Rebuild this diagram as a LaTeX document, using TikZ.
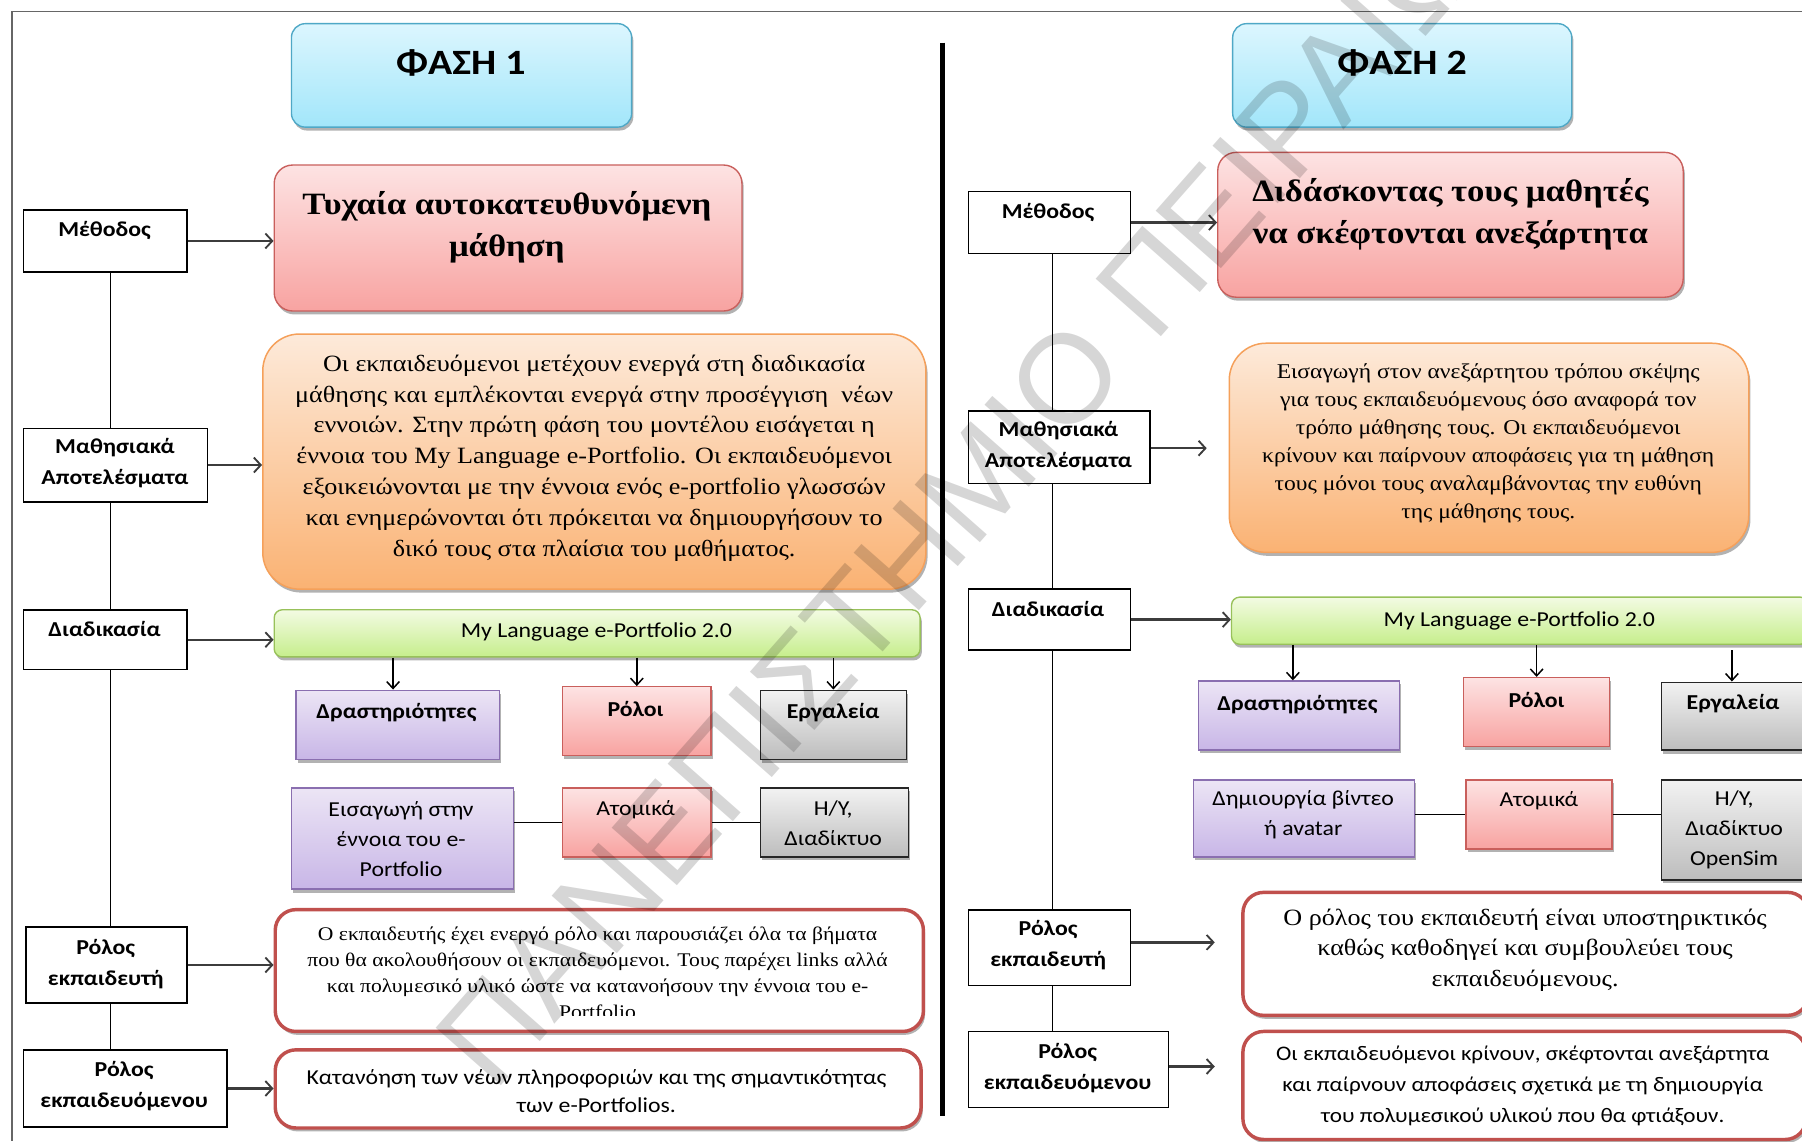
\documentclass[tikz,border=0pt]{standalone}
\usepackage{fontspec}
\setmainfont{Liberation Serif}[FakeStretch=1.12]
\newfontfamily\CarFont{Carlito}[FakeStretch=1.12]
\newfontfamily\WmFont{Liberation Sans}
\usetikzlibrary{arrows.meta,shadows}
\definecolor{blueTop}{HTML}{DCF6FE}\definecolor{blueBot}{HTML}{A2E6FA}\definecolor{blueBd}{HTML}{4FA8C6}
\definecolor{pinkTop}{HTML}{FDE3E3}\definecolor{pinkBot}{HTML}{F8A3A1}\definecolor{pinkBd}{HTML}{C95F5C}
\definecolor{orTop}{HTML}{FDEADA}\definecolor{orBot}{HTML}{FAB273}\definecolor{orBd}{HTML}{F5A05A}
\definecolor{grTop}{HTML}{F3FBE3}\definecolor{grBot}{HTML}{C6EE8C}\definecolor{grBd}{HTML}{98C15A}
\definecolor{puTop}{HTML}{ECE5F5}\definecolor{puBot}{HTML}{C8B6E7}\definecolor{puBd}{HTML}{8A6FB0}
\definecolor{gyTop}{HTML}{F2F2F2}\definecolor{gyBot}{HTML}{BDBDBD}\definecolor{gyBd}{HTML}{262626}
\definecolor{redBd}{HTML}{C0504D}
\definecolor{arrGray}{HTML}{3C3C3C}
\tikzset{
  bx/.style={inner sep=0pt, anchor=north west, draw},
  lab/.style={bx, draw=black, line width=1.3pt, fill=white},
  shad/.style={drop shadow={shadow xshift=1.5pt, shadow yshift=-3pt, opacity=0.3, fill=black}},
  bluebox/.style={bx, shad, draw=blueBd, line width=1.2pt, rounded corners=12pt, top color=blueTop, bottom color=blueBot},
  pinkbig/.style={bx, shad, draw=pinkBd, line width=1.2pt, rounded corners=16pt, top color=pinkTop, bottom color=pinkBot},
  orbox/.style={bx, shad, draw=orBd, line width=1.3pt, rounded corners=32pt, top color=orTop, bottom color=orBot},
  grbox/.style={bx, shad, draw=grBd, line width=1.2pt, rounded corners=7pt, top color=grTop, bottom color=grBot},
  pubox/.style={bx, shad, draw=puBd, line width=1.2pt, top color=puTop, bottom color=puBot},
  pkbox/.style={bx, shad, draw=pinkBd, line width=1.2pt, top color=pinkTop, bottom color=pinkBot},
  gybox/.style={bx, shad, draw=gyBd, line width=1.3pt, top color=gyTop, bottom color=gyBot},
  redbox/.style={bx, shad, draw=redBd, line width=3pt, rounded corners=18pt, fill=white},
  ltxt/.style={inner sep=0pt, align=center, font=\CarFont\bfseries\fontsize{18.5}{27}\selectfont},
  stxt/.style={inner sep=0pt, align=center, font=\CarFont\fontsize{18.5}{26}\selectfont},
  ttl/.style={inner sep=0pt, align=center, font=\CarFont\bfseries\fontsize{31}{36}\selectfont},
  sbig/.style={inner sep=0pt, align=center, font=\bfseries\fontsize{27}{36.5}\selectfont},
  arr/.style={draw=arrGray, line width=2pt, -{Straight Barb[length=6pt,width=13pt,line width=1.6pt]}},
  darr/.style={draw=black, line width=1.3pt, -{Straight Barb[length=6pt,width=11pt,line width=1.3pt]}},
  spine/.style={draw=black, line width=1.2pt},
  link/.style={draw=black, line width=1.2pt},
}
\begin{document}
\begin{tikzpicture}[x=1pt,y=-1pt]
\useasboundingbox (0,0) rectangle (1568,993);
\clip (0,0) rectangle (1568,993);
\fill[white] (0,0) rectangle (1568,993);
% page frame
\draw[draw=gray!80!black, line width=1pt] (1568,10) -- (10.5,10) -- (10.5,993);
% divider
\draw[line width=4.5pt] (820,37) -- (820,971);

% ================= PHASE 1 =================
\node[bluebox, minimum width=296pt, minimum height=90pt] (ph1) at (253,20) {};
\node[ttl] (ph1t) at (401,55) {ΦΑΣΗ 1};
\node[pinkbig, minimum width=407pt, minimum height=127pt] (ti1) at (238,143) {};
\node[sbig] (ti1t) at (441,198) {Τυχαία αυτοκατευθυνόμενη\\μάθηση};
\node[lab, minimum width=142pt, minimum height=54pt] (m1) at (20,182) {};
\node[ltxt] (m1t) at (91,201) {Μέθοδος};

\node[orbox, minimum width=577pt, minimum height=222pt] (o1) at (228,290) {};
\node[inner sep=0pt, align=center, font=\fontsize{20.3}{26.8}\selectfont] (o1t) at (517,398.5) {Οι εκπαιδευόμενοι μετέχουν ενεργά στη διαδικασία\\μάθησης και εμπλέκονται ενεργά στην προσέγγιση\ \ νέων\\εννοιών. Στην πρώτη φάση του μοντέλου εισάγεται η\\έννοια του My Language e-Portfolio. Οι εκπαιδευόμενοι\\εξοικειώνονται με την έννοια ενός e-portfolio γλωσσών\\και ενημερώνονται ότι πρόκειται να δημιουργήσουν το\\δικό τους στα πλαίσια του μαθήματος.};
\node[lab, minimum width=160pt, minimum height=64pt] (ma1) at (20,372) {};
\node[ltxt] (ma1t) at (100,403) {Μαθησιακά\\Αποτελέσματα};

\node[grbox, minimum width=562pt, minimum height=41pt] (g1) at (238,530) {};
\node[stxt] (g1t) at (519,550) {My Language e-Portfolio 2.0};
\node[lab, minimum width=142pt, minimum height=52pt] (d1) at (20,530) {};
\node[ltxt] (d1t) at (91,547) {Διαδικασία};

\node[pubox, minimum width=177pt, minimum height=60pt] (act1) at (257,600) {};
\node[ltxt] (act1t) at (345,620) {Δραστηριότητες};
\node[pkbox, minimum width=129pt, minimum height=60pt] (rol1) at (489,597) {};
\node[ltxt] (rol1t) at (553,617) {Ρόλοι};
\node[gybox, minimum width=127pt, minimum height=60pt] (tool1) at (661,600) {};
\node[ltxt] (tool1t) at (725,620) {Εργαλεία};

\node[pubox, minimum width=193pt, minimum height=88pt] (act1b) at (253,685) {};
\node[stxt] (act1bt) at (349,730) {Εισαγωγή στην\\έννοια του e-\\Portfolio};
\node[pkbox, minimum width=129pt, minimum height=60pt] (rol1b) at (489,685) {};
\node[stxt] (rol1bt) at (553,705) {Ατομικά};
\node[gybox, minimum width=129pt, minimum height=60pt] (tool1b) at (661,685) {};
\node[stxt] (tool1bt) at (725,716) {Η/Υ,\\Διαδίκτυο};

\node[lab, minimum width=140pt, minimum height=66pt] (rt1) at (22,806) {};
\node[ltxt] (rt1t) at (92,838.5) {Ρόλος\\εκπαιδευτή};
\node[redbox, minimum width=564pt, minimum height=106pt] (rb1) at (238,790) {};
\begin{scope}
\clip (242,794) rectangle (798,883.5);
\node[inner sep=0pt, align=center, font=\fontsize{16.8}{22.4}\selectfont] (rb1t) at (520,846.5) {Ο εκπαιδευτής έχει ενεργό ρόλο και παρουσιάζει όλα τα βήματα\\που θα ακολουθήσουν οι εκπαιδευόμενοι. Τους παρέχει links αλλά\\και πολυμεσικό υλικό ώστε να κατανοήσουν την έννοια του e-\\Portfolio};
\end{scope}

\node[lab, minimum width=177pt, minimum height=67pt] (rs1) at (20,913) {};
\node[ltxt] (rs1t) at (108,945) {Ρόλος\\εκπαιδευόμενου};
\node[redbox, minimum width=562pt, minimum height=68pt] (rb1b) at (238,912) {};
\node[stxt, font=\CarFont\fontsize{18.5}{25}\selectfont] (rb1bt) at (519,949.5) {Κατανόηση των νέων πληροφοριών και της σημαντικότητας\\των e-Portfolios.};

% connectors phase 1
\draw[arr] (m1.east) -- (m1.east -| ti1.west);
\draw[arr] (ma1.east) -- (ma1.east -| o1.west);
\draw[arr] (d1.east) -- (d1.east -| g1.west);
\draw[arr] (rt1.east) -- (rt1.east -| rb1.west);
\draw[arr] (rs1.east) -- (rs1.east -| rb1b.west);
\coordinate (a1x) at (342,0);
\draw[darr] (a1x |- g1.south) -- (a1x |- act1.north);
\draw[darr] (rol1.north |- g1.south) -- (rol1.north);
\draw[darr] (tool1.north |- g1.south) -- (tool1.north);
\draw[link] (rol1b.west -| act1b.east) -- (rol1b.west);
\draw[link] (rol1b.east) -- (rol1b.east -| tool1b.west);
\coordinate (spL) at (96,0);
\draw[spine] (spL |- m1.south) -- (spL |- ma1.north);
\draw[spine] (spL |- ma1.south) -- (spL |- d1.north);
\draw[spine] (spL |- d1.south) -- (spL |- rt1.north);
\draw[spine] (spL |- rt1.south) -- (spL |- rs1.north);

% ================= PHASE 2 =================
\node[bluebox, minimum width=295pt, minimum height=90pt] (ph2) at (1072,20) {};
\node[ttl] (ph2t) at (1220,55) {ΦΑΣΗ 2};
\node[pinkbig, minimum width=405pt, minimum height=126pt] (ti2) at (1059,132) {};
\node[sbig] (ti2t) at (1262,186.5) {Διδάσκοντας τους μαθητές\\να σκέφτονται ανεξάρτητα};
\node[lab, minimum width=141pt, minimum height=54pt] (m2) at (842,166) {};
\node[ltxt] (m2t) at (912,185) {Μέθοδος};

\node[orbox, minimum width=452pt, minimum height=182pt] (o2) at (1069,298) {};
\node[inner sep=0pt, align=center, font=\fontsize{18.3}{24.4}\selectfont] (o2t) at (1295,386) {Εισαγωγή στον ανεξάρτητου τρόπου σκέψης\\για τους εκπαιδευόμενους όσο αναφορά τον\\τρόπο μάθησης τους. Οι εκπαιδευόμενοι\\κρίνουν και παίρνουν αποφάσεις για τη μάθηση\\τους μόνοι τους αναλαμβάνοντας την ευθύνη\\της μάθησης τους.};
\node[lab, minimum width=158pt, minimum height=63pt] (ma2) at (842,357) {};
\node[ltxt] (ma2t) at (921,388) {Μαθησιακά\\Αποτελέσματα};
\coordinate (ma2end) at (1050,390);

\node[grbox, minimum width=502pt, minimum height=41pt] (g2) at (1071,519) {};
\node[stxt] (g2t) at (1322,540) {My Language e-Portfolio 2.0};
\node[lab, minimum width=141pt, minimum height=53pt] (d2) at (842,512) {};
\node[ltxt] (d2t) at (912,530) {Διαδικασία};

\node[pubox, minimum width=175pt, minimum height=60pt] (act2) at (1042,592) {};
\node[ltxt] (act2t) at (1129,613) {Δραστηριότητες};
\node[pkbox, minimum width=127pt, minimum height=60pt] (rol2) at (1273,589) {};
\node[ltxt] (rol2t) at (1337,609) {Ρόλοι};
\node[gybox, minimum width=127pt, minimum height=59pt] (tool2) at (1445,593) {};
\node[ltxt] (tool2t) at (1508,612) {Εργαλεία};

\node[pubox, minimum width=192pt, minimum height=67pt] (act2b) at (1038,678) {};
\node[stxt] (act2bt) at (1134,709) {Δημιουργία βίντεο\\ή avatar};
\node[pkbox, minimum width=127pt, minimum height=60pt] (rol2b) at (1275,678) {};
\node[stxt] (rol2bt) at (1339,697) {Ατομικά};
\node[gybox, minimum width=127pt, minimum height=87pt] (tool2b) at (1445,678) {};
\node[stxt] (tool2bt) at (1509,722) {Η/Υ,\\Διαδίκτυο\\OpenSim};

\node[lab, minimum width=141pt, minimum height=66pt] (rt2) at (842,791) {};
\node[ltxt] (rt2t) at (912,822.5) {Ρόλος\\εκπαιδευτή};
\coordinate (rt2end) at (1057,820);
\node[redbox, minimum width=492pt, minimum height=107pt] (rb2) at (1080,775) {};
\node[inner sep=0pt, align=center, font=\fontsize{20.3}{26.5}\selectfont] (rb2t) at (1327,826.5) {Ο ρόλος του εκπαιδευτή είναι υποστηρικτικός\\καθώς καθοδηγεί και συμβουλεύει τους\\εκπαιδευόμενους.};

\node[lab, minimum width=174pt, minimum height=66pt] (rs2) at (842,897) {};
\node[ltxt] (rs2t) at (929,929) {Ρόλος\\εκπαιδευόμενου};
\coordinate (rs2end) at (1057,928);
\node[redbox, minimum width=490pt, minimum height=94pt] (rb2b) at (1080,896) {};
\node[stxt, font=\CarFont\fontsize{18}{27}\selectfont] (rb2bt) at (1325,945) {Οι εκπαιδευόμενοι κρίνουν, σκέφτονται ανεξάρτητα\\και παίρνουν αποφάσεις σχετικά με τη δημιουργία\\του πολυμεσικού υλικού που θα φτιάξουν.};

% connectors phase 2
\draw[arr] (m2.east) -- (m2.east -| ti2.west);
\draw[arr] (ma2.east |- ma2end) -- (ma2end);
\draw[arr] (d2.east) -- (d2.east -| g2.west);
\draw[arr] (rt2.east |- rt2end) -- (rt2end);
\draw[arr] (rs2.east |- rs2end) -- (rs2end);
\coordinate (a2x) at (1125,0);
\draw[darr] (a2x |- g2.south) -- (a2x |- act2.north);
\draw[darr] (rol2.north |- g2.south) -- (rol2.north);
\coordinate (a3x) at (1507,0);
\coordinate (a3s) at (1507,566);
\draw[darr] (a3s) -- (a3x |- tool2.north);
\draw[link] (rol2b.west -| act2b.east) -- (rol2b.west);
\draw[link] (rol2b.east) -- (rol2b.east -| tool2b.west);
\coordinate (spR) at (916,0);
\draw[spine] (spR |- m2.south) -- (spR |- ma2.north);
\draw[spine] (spR |- ma2.south) -- (spR |- d2.north);
\draw[spine] (spR |- d2.south) -- (spR |- rt2.north);
\draw[spine] (spR |- rt2.south) -- (spR |- rs2.north);

% watermark
\node[inner sep=0pt, rotate=48.6, text=black, opacity=0.16, font=\WmFont\fontsize{110}{110}\selectfont] (wm) at (855,412) {ΠΑΝΕΠΙΣΤΗΜΙΟ ΠΕΙΡΑΙΩΣ};
\end{tikzpicture}
\end{document}
